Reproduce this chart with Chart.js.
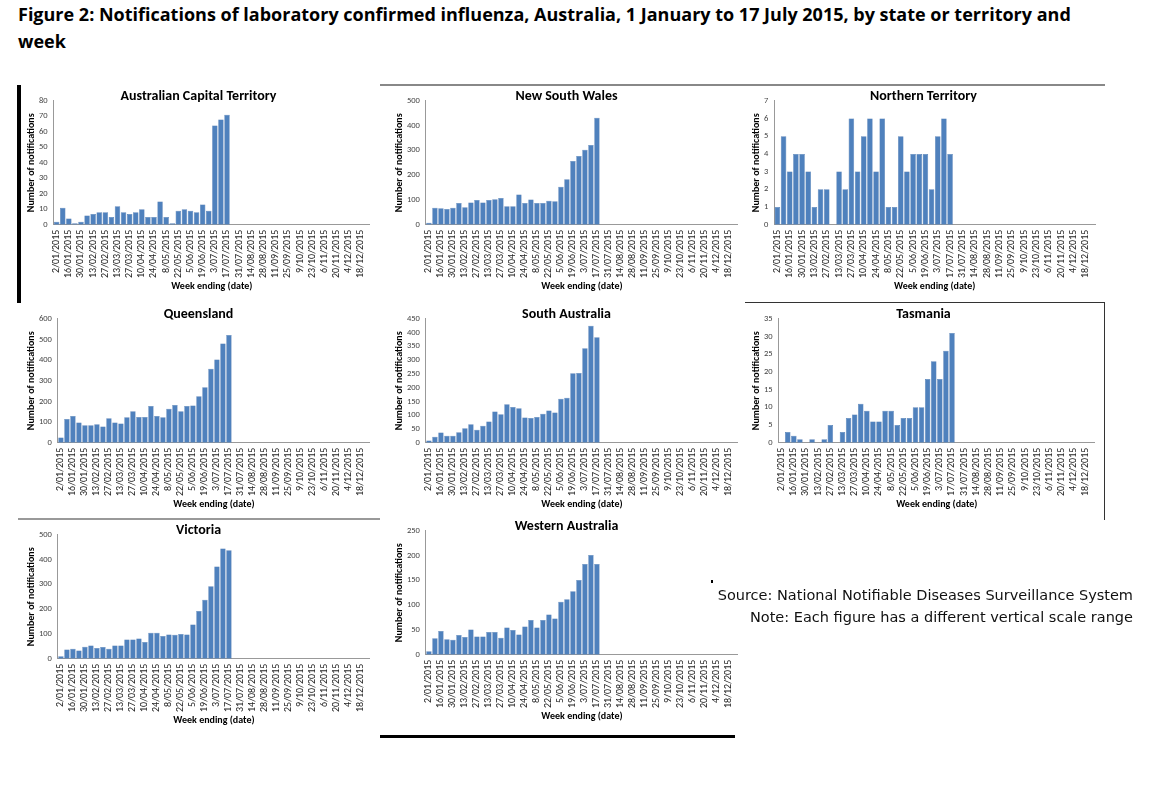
<!DOCTYPE html>
<html>
<head>
<meta charset="utf-8">
<script src="https://cdn.jsdelivr.net/npm/chart.js@4"></script>
<style>
  body { margin: 0; background: #fff; font-family: Calibri, Carlito, "Open Sans", sans-serif; }
  #page { position: relative; width: 1149px; height: 785px; }
  h1 { position: absolute; left: 18px; top: 1px; width: 1100px; margin: 0; font-size: 18px; line-height: 27px; font-weight: bold; font-family: "Open Sans", sans-serif; }
  .panel { position: absolute; width: 355px; height: 204px; }
  .line { position: absolute; }
  .note { position: absolute; right: 16px; font-size: 14.5px; font-family: "DejaVu Sans", sans-serif; color: #111; }
</style>
</head>
<body>
<div id="page">
  <h1>Figure 2: Notifications of laboratory confirmed influenza, Australia, 1 January to 17 July 2015, by state or territory and week</h1>
  <div class="line" style="left:17px;top:85px;width:4px;height:218px;background:#000"></div>
  <div class="line" style="left:380px;top:84px;width:725px;height:2px;background:#888"></div>
  <div class="line" style="left:745px;top:302px;width:360px;height:1px;background:#333"></div>
  <div class="line" style="left:1104px;top:302px;width:1px;height:218px;background:#333"></div>
  <div class="line" style="left:18px;top:518px;width:362px;height:2px;background:#999"></div>
  <div class="line" style="left:380px;top:735px;width:355px;height:3px;background:#000"></div>
  <div class="line" style="left:711px;top:580px;width:2px;height:3px;background:#000"></div>
  <div class="panel" style="left:25px;top:88px"><canvas id="act"></canvas></div>
  <div class="panel" style="left:393px;top:88px"><canvas id="nsw"></canvas></div>
  <div class="panel" style="left:750px;top:88px"><canvas id="nt"></canvas></div>
  <div class="panel" style="left:25px;top:306px"><canvas id="qld"></canvas></div>
  <div class="panel" style="left:393px;top:306px"><canvas id="sa"></canvas></div>
  <div class="panel" style="left:750px;top:306px"><canvas id="tas"></canvas></div>
  <div class="panel" style="left:25px;top:522px"><canvas id="vic"></canvas></div>
  <div class="panel" style="left:393px;top:518px"><canvas id="wa"></canvas></div>
  <div class="note" style="top:587px">Source: National Notifiable Diseases Surveillance System</div>
  <div class="note" style="top:609px">Note: Each figure has a different vertical scale range</div>
</div>
<script>
const weeks = ['2/01/2015', '9/01/2015', '16/01/2015', '23/01/2015', '30/01/2015', '6/02/2015', '13/02/2015',
  '20/02/2015', '27/02/2015', '6/03/2015', '13/03/2015', '20/03/2015', '27/03/2015', '3/04/2015', '10/04/2015',
  '17/04/2015', '24/04/2015', '1/05/2015', '8/05/2015', '15/05/2015', '22/05/2015', '29/05/2015', '5/06/2015',
  '12/06/2015', '19/06/2015', '26/06/2015', '3/07/2015', '10/07/2015', '17/07/2015', '24/07/2015', '31/07/2015',
  '7/08/2015', '14/08/2015', '21/08/2015', '28/08/2015', '4/09/2015', '11/09/2015', '18/09/2015', '25/09/2015',
  '2/10/2015', '9/10/2015', '16/10/2015', '23/10/2015', '30/10/2015', '6/11/2015', '13/11/2015', '20/11/2015',
  '27/11/2015', '4/12/2015', '11/12/2015', '18/12/2015', '25/12/2015'];

const act = [2, 11, 4, 1, 2, 6, 7, 8, 8, 5, 12, 8, 7, 8, 10, 5, 5, 15, 5, 1, 9, 10, 9, 8, 13, 9, 64, 68, 71];
const nsw = [8, 68, 66, 63, 68, 88, 71, 90, 100, 90, 100, 103, 108, 75, 75, 122, 88, 102, 88, 88, 97, 95, 153, 183, 257, 277, 303, 322, 432];
const nt = [1, 5, 3, 4, 4, 3, 1, 2, 2, 0, 3, 2, 6, 3, 5, 6, 3, 6, 1, 1, 5, 3, 4, 4, 4, 2, 5, 6, 4];
const qld = [25, 115, 130, 98, 85, 85, 90, 78, 118, 98, 93, 123, 153, 125, 125, 178, 130, 123, 165, 183, 153, 178, 180, 225, 268, 358, 403, 480, 522];
const sa = [8, 22, 37, 25, 25, 38, 53, 67, 47, 62, 77, 113, 103, 140, 130, 125, 92, 90, 93, 105, 117, 110, 160, 163, 252, 253, 343, 425, 383];
const tas = [0, 3, 2, 1, 0, 1, 0, 1, 5, 0, 3, 7, 8, 11, 9, 6, 6, 9, 9, 5, 7, 7, 10, 10, 18, 23, 18, 26, 31];
const vic = [10, 37, 40, 33, 48, 53, 43, 47, 40, 53, 53, 78, 78, 82, 67, 105, 105, 92, 98, 97, 100, 98, 138, 193, 238, 292, 372, 445, 438];
const wa = [7, 33, 48, 31, 30, 40, 36, 51, 37, 37, 46, 46, 34, 55, 50, 41, 57, 70, 55, 70, 81, 73, 107, 112, 128, 151, 183, 201, 183];

const panels = [
  { id: 'act', title: 'Australian Capital Territory', data: act, max: 80, step: 10 },
  { id: 'nsw', title: 'New South Wales', data: nsw, max: 500, step: 50 },
  { id: 'nt', title: 'Northern Territory', data: nt, max: 7, step: 1 },
  { id: 'qld', title: 'Queensland', data: qld, max: 600, step: 100 },
  { id: 'sa', title: 'South Australia', data: sa, max: 450, step: 50 },
  { id: 'tas', title: 'Tasmania', data: tas, max: 35, step: 5 },
  { id: 'vic', title: 'Victoria', data: vic, max: 500, step: 50 },
  { id: 'wa', title: 'Western Australia', data: wa, max: 250, step: 50 },
];

const font = 'Calibri, Carlito, "Open Sans", sans-serif';

function createChart(p) {
  const ctx = document.getElementById(p.id).getContext('2d');
  return new Chart(ctx, {
    type: 'bar',
    data: {
      labels: weeks,
      datasets: [{
        data: p.data,
        backgroundColor: '#4f81bd',
        borderColor: '#3d6ca8',
        borderWidth: 0.5,
        barPercentage: 0.9,
        categoryPercentage: 1,
      }],
    },
    options: {
      responsive: true,
      maintainAspectRatio: false,
      animation: false,
      layout: { padding: { right: 8 } },
      plugins: {
        legend: { display: false },
        tooltip: { enabled: false },
        title: {
          display: true,
          text: p.title,
          color: '#000',
          font: { family: font, size: 14, weight: 'bold' },
          padding: { top: 0, bottom: -4 },
        },
      },
      scales: {
        x: {
          grid: { display: false, drawTicks: true, tickLength: 4 },
          border: { color: '#999' },
          ticks: {
            autoSkip: false,
            maxRotation: 90,
            minRotation: 90,
            color: '#222',
            font: { family: font, size: 10 },
            padding: 1,
            callback: (v, i) => (i % 2 === 0 ? weeks[i] : ''),
          },
          title: {
            display: true,
            text: 'Week ending (date)',
            color: '#000',
            font: { family: font, size: 10, weight: 'bold' },
            padding: { top: 1, bottom: 0 },
          },
        },
        y: {
          min: 0,
          max: p.max,
          grid: { display: false, tickLength: 4 },
          border: { color: '#999' },
          ticks: { stepSize: p.step, color: '#444', font: { family: font, size: 8.5 }, padding: 2 },
          title: {
            display: true,
            text: 'Number of notifications',
            color: '#000',
            font: { family: font, size: 10, weight: 'bold' },
            padding: 0,
          },
        },
      },
    },
  });
}

panels.forEach(createChart);
</script>
</body>
</html>
